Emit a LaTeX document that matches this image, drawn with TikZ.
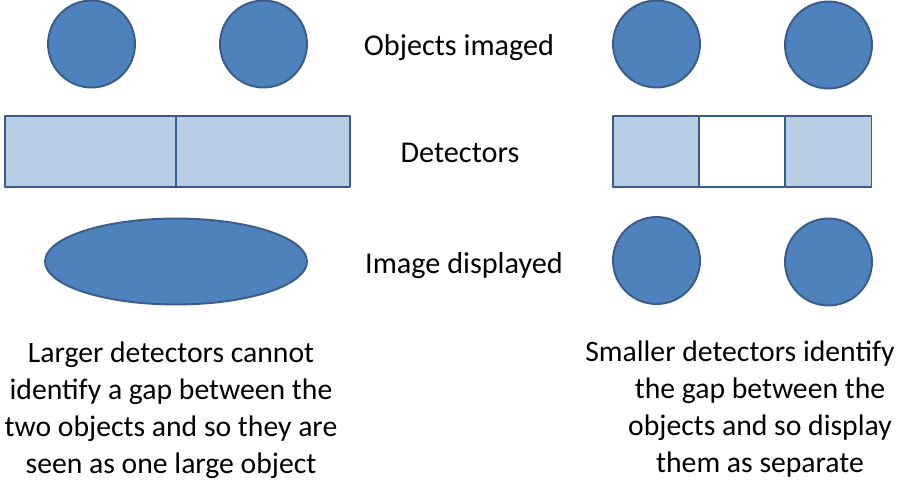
\documentclass[tikz,border=0pt]{standalone}
\usepackage{fontspec}
\setmainfont{Carlito}
\usepackage{xcolor}
\usetikzlibrary{shapes.geometric, positioning}

\definecolor{objblue}{HTML}{4F81BD}
\definecolor{objline}{HTML}{385D8A}
\definecolor{detfill}{HTML}{B9CDE5}

\tikzset{
  obj/.style={circle, fill=objblue, draw=objline, line width=1.1pt, minimum size=1.74cm, inner sep=0pt},
  blob/.style={ellipse, fill=objblue, draw=objline, line width=1.1pt, minimum width=5.24cm, minimum height=1.72cm, inner sep=0pt},
  detcell/.style={rectangle, fill=detfill, draw=objline, line width=1.1pt, minimum height=1.42cm, inner sep=0pt},
  gapcell/.style={detcell, fill=white},
  lbl/.style={font=\fontsize{17.2}{21}\selectfont, inner sep=0pt, anchor=base},
  note/.style={lbl, font=\fontsize{16.9}{21}\selectfont, align=center}
}

\begin{document}
\begin{tikzpicture}[x=0.02cm, y=-0.02cm, line join=round]
  % Frame of the picture
  \useasboundingbox (0,0) rectangle (900,485);

  % Objects imaged
  \node[obj] (objL1) at (91.5,44) {};
  \node[obj] (objL2) at (263.5,44) {};
  \node[obj] (objR1) at (656.5,44) {};
  \node[obj] (objR2) at (828.5,45) {};

  % Large detectors
  \node[detcell, minimum width=3.43cm] (detL1) at (90.3,151.5) {};
  \node[detcell, minimum width=3.48cm] (detL2) at (263,151.5) {};

  % Small detectors
  \node[detcell, minimum width=1.72cm] (detR1) at (656,151.5) {};
  \node[gapcell, minimum width=1.72cm] (detR2) at (742,151.5) {};
  \node[detcell, minimum width=1.72cm] (detR3) at (828.5,151.5) {};

  % Images displayed
  \node[blob] (imgL) at (176,261.5) {};
  \node[obj] (imgR1) at (656.5,260.5) {};
  \node[obj] (imgR2) at (828.5,262) {};

  % Row labels
  \node[lbl] (lblObj) at (459,55) {Objects imaged};
  \node[lbl] (lblDet) at (460,162) {Detectors};
  \node[lbl] (lblImg) at (464,273) {Image displayed};

  % Explanations (base = last line)
  \node[note] (noteL) at (171,473) {Larger detectors cannot\\identify a gap between the\\two objects and so they are\\seen as one large object};
  \node[note] (noteR) at (740,472) {Smaller detectors identify\\\hspace*{0.8cm}the gap between the\\\hspace*{0.8cm}objects and so display\\\hspace*{0.8cm}them as separate};
\end{tikzpicture}
\end{document}
